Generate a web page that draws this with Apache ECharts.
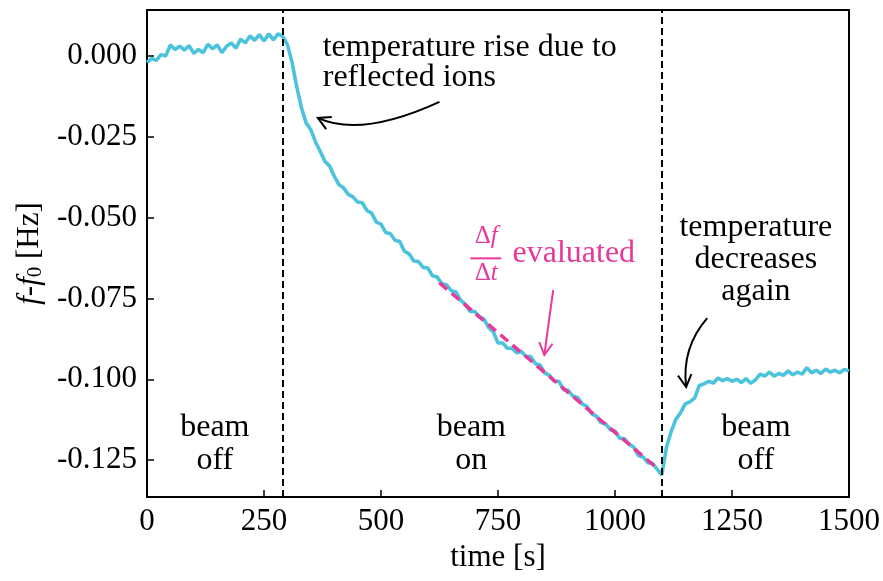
<!DOCTYPE html>
<html><head><meta charset="utf-8">
<script src="https://cdn.jsdelivr.net/npm/echarts@6/dist/echarts.min.js"></script>
<style>html,body{margin:0;padding:0;background:#fff}#c{width:883px;height:581px}</style>
</head><body><div id="c"></div>
<script>
// ---- data ----
const times = [0,10,20,30,40,50,60,70,80,90,100,110,120,130,140,150,160,170,180,190,
200,210,220,230,240,250,260,270,280,290,300,310,320,330,340,350,360,370,380,390,
400,410,420,430,440,450,460,470,480,490,500,510,520,530,540,550,560,570,580,590,
600,610,620,630,640,650,660,670,680,690,700,710,720,730,740,750,760,770,780,790,
800,810,820,830,840,850,860,870,880,890,900,910,920,930,940,950,960,970,980,990,
1000,1010,1020,1030,1040,1050,1060,1070,1080,1090,1100,1110,1120,1130,1140,1150,1160,1170,1180,1190,
1200,1210,1220,1230,1240,1250,1260,1270,1280,1290,1300,1310,1320,1330,1340,1350,1360,1370,1380,1390,
1400,1410,1420,1430,1440,1450,1460,1470,1480,1490,1500];
const freq = [-0.0020,-0.0008,-0.0014,0.0004,0.0000,0.0034,0.0020,0.0030,0.0018,0.0032,
0.0008,0.0020,0.0010,0.0036,0.0022,0.0034,0.0010,0.0030,0.0040,0.0024,
0.0052,0.0040,0.0062,0.0048,0.0066,0.0046,0.0068,0.0050,0.0068,0.0060,
0.0035,-0.0020,-0.0096,-0.0160,-0.0207,-0.0228,-0.0266,-0.0295,-0.0326,-0.0340,
-0.0372,-0.0398,-0.0408,-0.0428,-0.0436,-0.0452,-0.0454,-0.0478,-0.0486,-0.0514,
-0.0520,-0.0546,-0.0550,-0.0570,-0.0574,-0.0604,-0.0612,-0.0634,-0.0636,-0.0654,
-0.0656,-0.0680,-0.0684,-0.0704,-0.0708,-0.0726,-0.0730,-0.0755,-0.0768,-0.0790,
-0.0790,-0.0806,-0.0814,-0.0840,-0.0854,-0.0888,-0.0888,-0.0904,-0.0904,-0.0918,
-0.0914,-0.0930,-0.0930,-0.0952,-0.0956,-0.0980,-0.0988,-0.1006,-0.1006,-0.1032,
-0.1034,-0.1052,-0.1056,-0.1076,-0.1084,-0.1106,-0.1114,-0.1134,-0.1138,-0.1156,
-0.1160,-0.1182,-0.1184,-0.1200,-0.1210,-0.1236,-0.1240,-0.1258,-0.1260,-0.1278,
-0.1296,-0.1210,-0.1162,-0.1124,-0.1104,-0.1076,-0.1070,-0.1058,-0.1020,-0.1014,
-0.1006,-0.1012,-0.0996,-0.1004,-0.0998,-0.1006,-0.1000,-0.1010,-0.0998,-0.1012,
-0.1002,-0.0984,-0.0990,-0.0978,-0.0990,-0.0982,-0.0988,-0.0974,-0.0986,-0.0978,
-0.0984,-0.0964,-0.0980,-0.0972,-0.0982,-0.0968,-0.0978,-0.0972,-0.0980,-0.0970,-0.0974];
const fitT = [625, 1090];
const fitF = [-0.0702, -0.1275];
const beamEdges = [290, 1100];
const yTicks = [0, -0.025, -0.05, -0.075, -0.1, -0.125];
const xTicks = [0, 250, 500, 750, 1000, 1250, 1500];

// ---- chart ----
const FONT = '"Liberation Serif", "Times New Roman", serif';
const BLUE = '#4cc3dd';
const PINK = '#e8399b';
const chart = echarts.init(document.getElementById('c'), null, {renderer: 'canvas'});
const series = times.map((t, i) => [t, freq[i]]);
const fit = fitT.map((t, i) => [t, fitF[i]]);
const frameLine = {onZero: false, lineStyle: {color: '#000', width: 2}};

chart.setOption({
  animation: false,
  grid: {left: 147, right: 33, top: 10, bottom: 84, show: false},
  xAxis: [{
    type: 'value', min: xTicks[0], max: xTicks[xTicks.length - 1], interval: 250,
    axisLine: frameLine,
    axisTick: {inside: true, length: 7, lineStyle: {color: '#000', width: 1.5}},
    axisLabel: {color: '#000', fontFamily: FONT, fontSize: 31, margin: 9, formatter: v => String(v)},
    splitLine: {show: false},
    name: 'time [s]', nameLocation: 'middle', nameGap: 42,
    nameTextStyle: {color: '#000', fontFamily: FONT, fontSize: 31}
  }, {
    type: 'value', position: 'top', min: 0, max: 1500,
    axisLine: frameLine,
    axisTick: {show: false}, axisLabel: {show: false}, splitLine: {show: false}
  }],
  yAxis: [{
    type: 'value', min: -0.1364, max: 0.0142,
    axisLine: Object.assign({show: true}, frameLine),
    axisTick: {show: true, inside: true, length: 7, customValues: yTicks, lineStyle: {color: '#000', width: 1.5}},
    axisLabel: {customValues: yTicks, color: '#000', fontFamily: FONT, fontSize: 31, margin: 10,
      formatter: v => v.toFixed(3)},
    splitLine: {show: false},
    name: '{i|f}-{i|f}{s|0} [Hz]', nameLocation: 'middle', nameGap: 100, nameRotate: 90,
    nameTextStyle: {color: '#000', fontFamily: FONT, fontSize: 31,
      rich: {
        i: {fontStyle: 'italic', fontFamily: FONT, fontSize: 31, color: '#000'},
        s: {fontFamily: FONT, fontSize: 21, color: '#000', verticalAlign: 'bottom', padding: [12, 0, 0, 0]}
      }}
  }, {
    type: 'value', position: 'right', min: -0.1364, max: 0.0142,
    axisLine: Object.assign({show: true}, frameLine),
    axisTick: {show: false}, axisLabel: {show: false}, splitLine: {show: false}
  }],
  series: [{
    type: 'line', data: series, showSymbol: false, symbol: 'none',
    lineStyle: {color: BLUE, width: 3.6}, z: 3,
    markLine: {
      silent: true, symbol: 'none', label: {show: false},
      lineStyle: {color: '#000', width: 2, type: [7, 4]},
      data: beamEdges.map(x => ({xAxis: x}))
    }
  }, {
    type: 'line', data: fit, showSymbol: false, symbol: 'none',
    lineStyle: {color: PINK, width: 3.5, type: [10, 6]}, z: 4
  }]
});

// ---- annotations (placed in data coordinates) ----
function px(t, f) { return chart.convertToPixel({xAxisIndex: 0, yAxisIndex: 0}, [t, f]); }
function head(tip, from, color) {
  const dx = tip[0] - from[0], dy = tip[1] - from[1];
  const len = Math.hypot(dx, dy), ux = dx / len, uy = dy / len;
  const L = 14, a = 0.5;
  const p = s => [tip[0] - L * (ux * Math.cos(a) - s * uy * Math.sin(a)),
                  tip[1] - L * (uy * Math.cos(a) + s * ux * Math.sin(a))];
  return {type: 'polyline', shape: {points: [p(1), tip, p(-1)]},
          style: {stroke: color, lineWidth: 2, fill: null}, z: 10};
}
function curveArrow(p0, c, p2, color) {
  const a = px(...p0), b = px(...c), d = px(...p2);
  return [{type: 'bezierCurve', shape: {x1: a[0], y1: a[1], cpx1: b[0], cpy1: b[1], x2: d[0], y2: d[1]},
           style: {stroke: color, lineWidth: 2, fill: null}, z: 10}, head(d, b, color)];
}
function label(t, f, text, align, color, size) {
  const p = px(t, f);
  return {type: 'text', x: p[0], y: p[1], z: 10,
    style: {text: text, font: (size || 32) + 'px ' + FONT, fill: color || '#000',
            align: align || 'center', verticalAlign: 'middle'}};
}
const g = [];
g.push(...curveArrow([625, -0.01423], [457, -0.02537], [365, -0.01918], '#000'));
g.push(...curveArrow([1197, -0.0811], [1142, -0.0903], [1152, -0.1024], '#000'));
g.push(...curveArrow([868, -0.0724], [858, -0.0825], [849, -0.0925], PINK));
g.push(label(375.5, 0.0025, 'temperature rise due to', 'left'));
g.push(label(375.5, -0.0068, 'reflected ions', 'left'));
g.push(label(1301, -0.0530, 'temperature'));
g.push(label(1301, -0.0629, 'decreases'));
g.push(label(1301, -0.0730, 'again'));
g.push(label(145, -0.1150, 'beam'));
g.push(label(145, -0.1252, 'off'));
g.push(label(693, -0.1150, 'beam'));
g.push(label(693, -0.1252, 'on'));
g.push(label(1301, -0.1150, 'beam'));
g.push(label(1301, -0.1252, 'off'));
// fraction Δf/Δt evaluated
g.push(label(725, -0.0558, 'Δ{i|f}', 'center', PINK, 25));
g.push(label(725, -0.0674, 'Δ{i|t}', 'center', PINK, 25));
g.push(label(781, -0.0610, 'evaluated', 'left', PINK, 32));
const fb1 = px(691, -0.0626), fb2 = px(757, -0.0626);
g.push({type: 'line', shape: {x1: fb1[0], y1: fb1[1], x2: fb2[0], y2: fb2[1]}, style: {stroke: PINK, lineWidth: 2}, z: 10});
g.forEach(e => {
  if (e.type === 'text' && e.style.text.indexOf('{i|') >= 0) {
    e.style.rich = {i: {fontStyle: 'italic', fontFamily: FONT, fontSize: 25, fill: PINK}};
  }
});
chart.setOption({graphic: g});
</script>
</body></html>
